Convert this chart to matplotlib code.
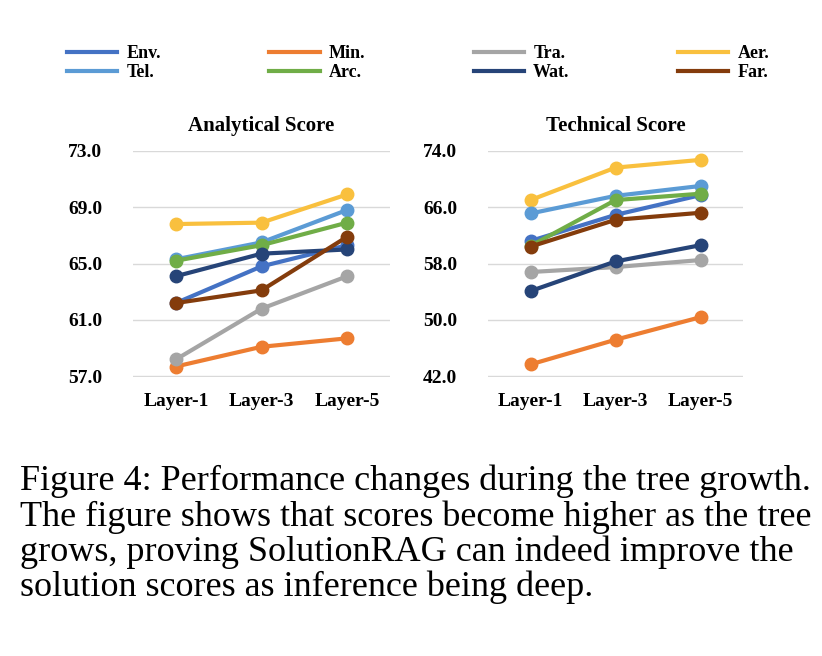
import matplotlib.pyplot as plt

layers = ['Layer-1', 'Layer-3', 'Layer-5']
names = ['Env.', 'Min.', 'Tra.', 'Aer.', 'Tel.', 'Arc.', 'Wat.', 'Far.']
colors = ['#4472C4', '#ED7D31', '#A5A5A5', '#F9C03E', '#5B9BD5', '#70AD47', '#264478', '#843C0C']

analytical = {
    'Env.': [62.2, 64.8, 66.3],
    'Min.': [57.7, 59.1, 59.7],
    'Tra.': [58.2, 61.8, 64.1],
    'Aer.': [67.8, 67.9, 69.9],
    'Tel.': [65.3, 66.5, 68.8],
    'Arc.': [65.2, 66.3, 67.9],
    'Wat.': [64.1, 65.7, 66.0],
    'Far.': [62.2, 63.1, 66.9],
}
technical = {
    'Env.': [61.2, 64.9, 67.7],
    'Min.': [43.7, 47.2, 50.4],
    'Tra.': [56.8, 57.5, 58.5],
    'Aer.': [67.0, 71.6, 72.7],
    'Tel.': [65.1, 67.6, 69.0],
    'Arc.': [60.5, 67.0, 67.9],
    'Wat.': [54.1, 58.3, 60.6],
    'Far.': [60.4, 64.2, 65.2],
}

plt.rcParams['font.family'] = ['Liberation Serif', 'DejaVu Serif']

W, H = 822, 656
fig = plt.figure(figsize=(W / 100, H / 100), dpi=100)


def make_ax(x0, x1, y0, y1):
    return fig.add_axes([x0 / W, 1 - y1 / H, (x1 - x0) / W, (y1 - y0) / H])


panels = [
    (make_ax(133, 390, 150.7, 376.7), analytical, 'Analytical Score', (57, 73), [57, 61, 65, 69, 73]),
    (make_ax(488, 743, 150.7, 376.7), technical, 'Technical Score', (42, 74), [42, 50, 58, 66, 74]),
]

handles = {}
for ax, data, title, ylim, yticks in panels:
    for name, c in zip(names, colors):
        ln, = ax.plot(range(3), data[name], color=c, lw=3, marker='o', ms=9, label=name,
                      clip_on=False)
        handles[name] = ln
    ax.set_xlim(-0.5, 2.5)
    ax.set_ylim(ylim[0] - 0.02 * (ylim[1] - ylim[0]) / 16, ylim[1])
    ax.set_yticks(yticks)
    ax.set_yticklabels([f'{v:.1f}' for v in yticks], fontsize=14, fontweight='bold')
    ax.set_xticks(range(3))
    ax.set_xticklabels(layers, fontsize=14, fontweight='bold')
    ax.tick_params(length=0, pad=12)
    ax.tick_params(axis='y', pad=22)
    for s in ax.spines.values():
        s.set_visible(False)
    ax.grid(axis='y', color='#D9D9D9', lw=1)
    ax.set_axisbelow(True)
    ax.set_title(title, fontsize=15, fontweight='bold', pad=14)

order = ['Env.', 'Tel.', 'Min.', 'Arc.', 'Tra.', 'Wat.', 'Aer.', 'Far.']
fig.legend([handles[n] for n in order], order, ncol=4, loc='center',
           bbox_to_anchor=(418 / W, 1 - 63 / H), frameon=False,
           prop={'size': 13, 'weight': 'bold'}, handlelength=2.8,
           columnspacing=6.0, labelspacing=0.1, handletextpad=0.5,
           markerscale=0)

caption = ('Figure 4: Performance changes during the tree growth.\n'
           'The figure shows that scores become higher as the tree\n'
           'grows, proving SolutionRAG can indeed improve the\n'
           'solution scores as inference being deep.')
fig.text(20 / W, 1 - 465 / H, caption, fontsize=26, va='top', ha='left', linespacing=1.06)

fig.savefig('out.png', dpi=100)
